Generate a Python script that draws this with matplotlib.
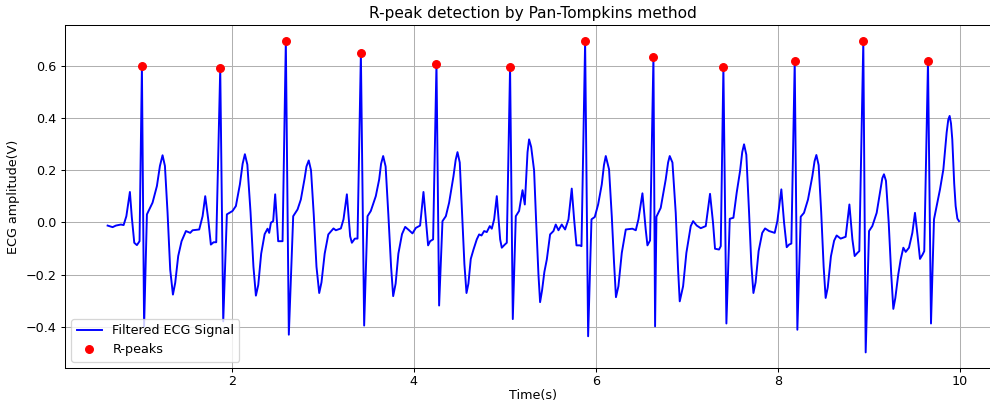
import matplotlib
matplotlib.use("Agg")
import matplotlib.pyplot as plt

# Filtered ECG signal, one line per beat
# (time in s, amplitude in V)
ecg_time = [
    0.634, 0.689, 0.725, 0.78, 0.81, 0.84, 0.879, 0.90, 0.927, 0.956, 0.985, 1.011, 1.035,
    1.066, 1.128, 1.176, 1.209, 1.238, 1.264, 1.293, 1.322, 1.352, 1.377, 1.41, 1.447, 1.495, 1.542, 1.568, 1.641, 1.678, 1.707, 1.74, 1.769, 1.799, 1.828, 1.872, 1.905,
    1.945, 2.007, 2.044, 2.088, 2.118, 2.143, 2.17, 2.205, 2.237, 2.264, 2.29, 2.322, 2.36, 2.392, 2.41, 2.429, 2.454, 2.476, 2.509, 2.557, 2.593, 2.626,
    2.674, 2.722, 2.758, 2.80, 2.82, 2.845, 2.87, 2.90, 2.93, 2.96, 2.985, 3.02, 3.06, 3.117, 3.143, 3.198, 3.227, 3.264, 3.3, 3.319, 3.352, 3.381, 3.418, 3.454,
    3.491, 3.527, 3.582, 3.619, 3.64, 3.663, 3.69, 3.72, 3.75, 3.773, 3.80, 3.83, 3.87, 3.905, 3.948, 3.985, 4.022, 4.069, 4.106, 4.132, 4.157, 4.179, 4.212, 4.249, 4.278,
    4.315, 4.352, 4.388, 4.436, 4.46, 4.48, 4.505, 4.53, 4.556, 4.579, 4.60, 4.626, 4.656, 4.692, 4.718, 4.744, 4.773, 4.802, 4.835, 4.857, 4.883, 4.912, 4.949, 4.967, 5.0, 5.022, 5.058, 5.088,
    5.121, 5.157, 5.195, 5.22, 5.25, 5.267, 5.29, 5.322, 5.345, 5.37, 5.388, 5.41, 5.435, 5.462, 5.498, 5.535, 5.56, 5.59, 5.626, 5.663, 5.7, 5.736, 5.762, 5.788, 5.824, 5.843, 5.883, 5.916,
    5.953, 5.989, 6.026, 6.066, 6.09, 6.11, 6.146, 6.176, 6.201, 6.222, 6.249, 6.286, 6.33, 6.403, 6.44, 6.469, 6.513, 6.549, 6.568, 6.597, 6.634, 6.652,
    6.667, 6.714, 6.769, 6.795, 6.813, 6.843, 6.879, 6.905, 6.923, 6.96, 6.996, 7.044, 7.07, 7.11, 7.154, 7.209, 7.256, 7.289, 7.311, 7.355, 7.374, 7.403, 7.436,
    7.473, 7.513, 7.549, 7.586, 7.61, 7.63, 7.655, 7.685, 7.71, 7.733, 7.757, 7.79, 7.83, 7.861, 7.905, 7.967, 7.996, 8.04, 8.07, 8.099, 8.125, 8.15, 8.187, 8.216,
    8.253, 8.289, 8.333, 8.381, 8.405, 8.425, 8.45, 8.478, 8.505, 8.527, 8.55, 8.585, 8.62, 8.648, 8.692, 8.747, 8.788, 8.821, 8.846, 8.876, 8.897, 8.941, 8.967,
    9.004, 9.04, 9.088, 9.124, 9.15, 9.168, 9.19, 9.22, 9.248, 9.271, 9.293, 9.325, 9.352, 9.381, 9.407, 9.443, 9.48, 9.509, 9.538, 9.564, 9.593, 9.611, 9.652, 9.685,
    9.718, 9.747, 9.784, 9.821, 9.857, 9.875, 9.89, 9.905, 9.919, 9.94, 9.956, 9.975, 9.993,
]
ecg_amp = [
    -0.012, -0.018, -0.012, -0.008, -0.010, 0.024, 0.117, 0.02, -0.078, -0.087, -0.072, 0.601, -0.40,
    0.031, 0.076, 0.14, 0.217, 0.258, 0.217, 0.037, -0.181, -0.277, -0.232, -0.129, -0.072, -0.033, -0.04, -0.03, -0.027, 0.024, 0.101, 0.012, -0.085, -0.076, -0.076, 0.592, -0.38,
    0.031, 0.044, 0.063, 0.146, 0.225, 0.262, 0.222, 0.04, -0.17, -0.281, -0.24, -0.12, -0.045, -0.024, -0.04, -0.001, 0.005, 0.108, -0.072, -0.072, 0.697, -0.431,
    0.024, 0.05, 0.088, 0.17, 0.215, 0.238, 0.2, 0.03, -0.17, -0.271, -0.23, -0.12, -0.046, -0.023, -0.03, -0.023, 0.012, 0.108, -0.053, -0.078, -0.062, -0.062, 0.649, -0.396,
    0.024, 0.044, 0.101, 0.165, 0.225, 0.255, 0.215, 0.03, -0.17, -0.283, -0.235, -0.12, -0.045, -0.017, -0.03, -0.042, -0.021, -0.012, 0.117, 0.012, -0.088, -0.072, -0.065, 0.610, -0.319,
    0.005, 0.024, 0.076, 0.178, 0.24, 0.27, 0.23, 0.04, -0.16, -0.271, -0.235, -0.14, -0.104, -0.065, -0.046, -0.05, -0.033, -0.037, -0.014, -0.024, 0.012, 0.101, -0.065, -0.097, -0.085, -0.078, 0.597, -0.371,
    0.024, 0.044, 0.124, 0.069, 0.27, 0.319, 0.29, 0.2, 0.0, -0.2, -0.306, -0.26, -0.19, -0.142, -0.046, -0.033, -0.008, -0.03, -0.008, -0.027, 0.012, 0.13, 0.012, -0.088, -0.088, -0.091, 0.695, -0.437,
    0.012, 0.021, 0.069, 0.146, 0.22, 0.255, 0.204, 0.024, -0.155, -0.287, -0.245, -0.117, -0.027, -0.024, -0.03, 0.012, 0.112, -0.027, -0.088, -0.069, 0.637, -0.399,
    0.022, 0.056, 0.165, 0.23, 0.255, 0.23, 0.037, -0.181, -0.303, -0.245, -0.117, -0.014, 0.005, -0.012, -0.022, -0.014, 0.11, -0.001, -0.101, -0.104, -0.091, 0.597, -0.388,
    0.014, 0.018, 0.114, 0.197, 0.27, 0.3, 0.26, 0.04, -0.16, -0.271, -0.23, -0.11, -0.04, -0.023, -0.033, -0.04, 0.005, 0.127, -0.001, -0.095, -0.085, -0.081, 0.619, -0.412,
    0.022, 0.037, 0.088, 0.178, 0.235, 0.259, 0.22, 0.04, -0.17, -0.29, -0.25, -0.13, -0.07, -0.05, -0.062, -0.055, 0.069, -0.065, -0.129, -0.117, -0.11, 0.695, -0.499,
    -0.033, -0.014, 0.037, 0.114, 0.17, 0.185, 0.16, 0.0, -0.2, -0.332, -0.29, -0.2, -0.142, -0.097, -0.113, -0.097, -0.04, 0.037, -0.053, -0.14, -0.123, -0.11, 0.619, -0.388,
    0.012, 0.063, 0.127, 0.204, 0.345, 0.395, 0.409, 0.38, 0.319, 0.15, 0.063, 0.015, 0.005,
]

# Detected R-peaks
r_time = [1.011, 1.872, 2.593, 3.418, 4.249, 5.058, 5.883, 6.634, 7.403, 8.187, 8.941, 9.652]
r_amp = [0.601, 0.592, 0.697, 0.649, 0.610, 0.597, 0.695, 0.637, 0.597, 0.619, 0.695, 0.619]

dpi = 92
fig = plt.figure(figsize=(990 / dpi, 405 / dpi), dpi=dpi)
ax = fig.add_axes([0.0657, 0.0914, 0.946, 0.846])

ax.plot(ecg_time, ecg_amp, color='blue', linewidth=1.5, solid_joinstyle='round',
        label='Filtered ECG Signal')
ax.plot(r_time, r_amp, 'ro', markersize=6, label='R-peaks')

ax.set_title('R-peak detection by Pan-Tompkins method')
ax.set_xlabel('Time(s)', labelpad=1)
ax.set_ylabel('ECG amplitude(V)')
ax.tick_params(axis='x', pad=2)
ax.grid(True)
ax.legend(loc='lower left')

fig.savefig('out.png', dpi=dpi)
